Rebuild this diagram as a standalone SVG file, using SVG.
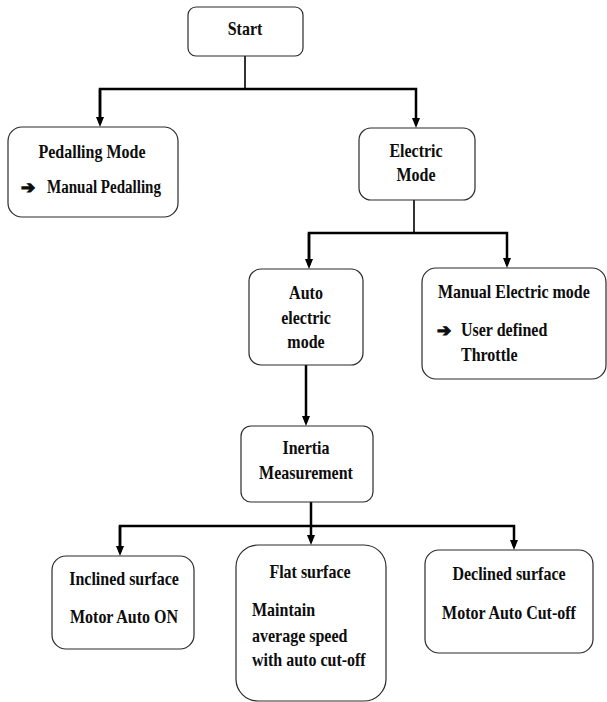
<svg xmlns="http://www.w3.org/2000/svg" width="607" height="702" viewBox="0 0 607 702">
<defs>
<style>
.box{fill:#fff;stroke:#2a2a2a;stroke-width:1.2}
.t{font-family:"Liberation Serif","Times New Roman",serif;font-weight:bold;font-size:16px;fill:#0d0d0d}
.c{text-anchor:middle}
.ar{font-family:"DejaVu Sans",sans-serif;font-weight:bold;font-size:17px;fill:#0d0d0d;stroke:#0d0d0d;stroke-width:1.2}
.ln{fill:none;stroke:#000;stroke-width:2.5}
.thin{fill:none;stroke:#000;stroke-width:1.6}
</style>
<marker id="ah" markerUnits="userSpaceOnUse" markerWidth="10" markerHeight="10" viewBox="0 0 10 10" refX="6" refY="5" orient="auto">
<path d="M0,1 L10,5 L0,9 z" fill="#000"/>
</marker>
</defs>
<rect width="607" height="702" fill="#fff"/>
<g id="connectors">
<line class="thin" x1="245" y1="56" x2="245" y2="89"/>
<polyline class="ln" points="100,123 100,89 416,89 416,124" marker-end="url(#ah)"/>
<line class="ln" x1="100" y1="89" x2="100" y2="123" marker-end="url(#ah)"/>
<line class="thin" x1="414" y1="200" x2="414" y2="233"/>
<polyline class="ln" points="309,265 309,233 507,233 507,264" marker-end="url(#ah)"/>
<line class="ln" x1="309" y1="233" x2="309" y2="265" marker-end="url(#ah)"/>
<line class="ln" x1="306" y1="365" x2="306" y2="422" stroke-width="3" marker-end="url(#ah)"/>
<line class="ln" x1="311" y1="502" x2="311" y2="541" marker-end="url(#ah)"/>
<polyline class="ln" points="120,552 120,526 514,526 514,546" marker-end="url(#ah)"/>
<line class="ln" x1="120" y1="526" x2="120" y2="552" marker-end="url(#ah)"/>
</g>
<g id="start">
<rect class="box" x="188" y="7" width="115" height="49" rx="8"/>
<text class="t c" transform="translate(245 35) scale(1 1.2)">Start</text>
</g>
<g id="pedalling">
<rect class="box" x="8" y="127" width="170" height="90" rx="14"/>
<text class="t c" transform="translate(92 158) scale(1 1.2)">Pedalling Mode</text>
<text class="ar" transform="translate(21 193)">➔</text>
<text class="t" transform="translate(47 193) scale(0.94 1.2)">Manual Pedalling</text>
</g>
<g id="electric">
<rect class="box" x="359" y="128" width="116" height="72" rx="12"/>
<text class="t c" transform="translate(416 157) scale(1 1.2)">Electric</text>
<text class="t c" transform="translate(416 181) scale(1 1.2)">Mode</text>
</g>
<g id="auto">
<rect class="box" x="249" y="269" width="114" height="96" rx="12"/>
<text class="t c" transform="translate(306 299) scale(1 1.2)">Auto</text>
<text class="t c" transform="translate(306 324) scale(1 1.2)">electric</text>
<text class="t c" transform="translate(306 348) scale(1 1.2)">mode</text>
</g>
<g id="manual-electric">
<rect class="box" x="422" y="268" width="184" height="111" rx="14"/>
<text class="t" transform="translate(438 298) scale(1 1.2)">Manual Electric mode</text>
<text class="ar" transform="translate(437 336)">➔</text>
<text class="t" transform="translate(461 336) scale(1 1.2)">User defined</text>
<text class="t" transform="translate(461 361) scale(1 1.2)">Throttle</text>
</g>
<g id="inertia">
<rect class="box" x="241" y="426" width="132" height="76" rx="10"/>
<text class="t c" transform="translate(306 454) scale(1 1.2)">Inertia</text>
<text class="t c" transform="translate(306 479) scale(1 1.2)">Measurement</text>
</g>
<g id="inclined">
<rect class="box" x="52" y="556" width="142" height="93" rx="14"/>
<text class="t c" transform="translate(124 585) scale(1 1.2)">Inclined surface</text>
<text class="t c" transform="translate(124 623) scale(1 1.2)">Motor Auto ON</text>
</g>
<g id="flat">
<rect class="box" x="236" y="545" width="150" height="156" rx="22"/>
<text class="t c" transform="translate(310 578) scale(1 1.2)">Flat surface</text>
<text class="t" transform="translate(252 616) scale(1 1.2)">Maintain</text>
<text class="t" transform="translate(252 642) scale(1 1.2)">average speed</text>
<text class="t" transform="translate(252 666) scale(1 1.2)">with auto cut-off</text>
</g>
<g id="declined">
<rect class="box" x="425" y="550" width="168" height="103" rx="14"/>
<text class="t c" transform="translate(509 580) scale(1 1.2)">Declined surface</text>
<text class="t c" transform="translate(509 619) scale(1 1.2)">Motor Auto Cut-off</text>
</g>
</svg>
